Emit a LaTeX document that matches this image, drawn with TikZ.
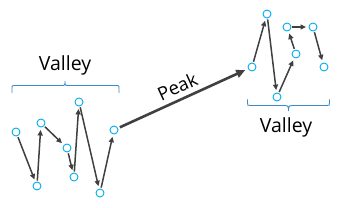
\documentclass[tikz,border=0pt]{standalone}
\usepackage{fontspec}
\setmainfont{Open Sans}
\usepackage{tikz}
\usetikzlibrary{arrows.meta}
\definecolor{cpt}{RGB}{0,174,239}
\definecolor{cbrace}{RGB}{60,140,205}
\definecolor{cedge}{RGB}{64,64,64}

\begin{document}
\begin{tikzpicture}[
  x=1pt,y=-1pt,
  pt/.style={circle,draw=cpt,line width=0.9pt,fill=white,minimum size=8pt,inner sep=0pt},
  hop/.style={-{Triangle[length=5.5pt,width=5pt]},cedge,line width=1.5pt,shorten <=1pt,shorten >=2.5pt},
  jump/.style={-{Triangle[length=9pt,width=8pt]},cedge,line width=2.6pt,shorten <=2pt,shorten >=3pt},
  brc/.style={cbrace,line width=0.9pt},
  lbl/.style={font=\fontsize{19.5}{22}\selectfont,text=black,inner sep=0pt},
]
\useasboundingbox (0,0) rectangle (351,208);

% valley on the left
\node[pt] (a1) at (16,132) {};
\node[pt] (a2) at (37,186) {};
\node[pt] (a3) at (41,123) {};
\node[pt] (a4) at (67,148) {};
\node[pt] (a5) at (74,177) {};
\node[pt] (a6) at (79,102) {};
\node[pt] (a7) at (100,193) {};
\node[pt] (a8) at (114,130) {};

\draw[hop] (a1) -- (a2);
\draw[hop] (a2) -- (a3);
\draw[hop] (a3) -- (a4);
\draw[hop] (a4) -- (a5);
\draw[hop] (a5) -- (a6);
\draw[hop] (a6) -- (a7);
\draw[hop] (a7) -- (a8);

\coordinate (bl) at (12,93);
\coordinate (bt) at (65,81);
\coordinate (br) at (119,93);
\draw[brc] (bl) -- ++(0,-4) .. controls +(0,-3.5) and +(-3.5,0) .. ++(3.5,-3.5) -- (61.5,85.5)
  .. controls +(3.5,0) and +(0,4.5) .. (bt) .. controls +(0,4.5) and +(-3.5,0) .. (68.5,85.5)
  -- (115.5,85.5) .. controls +(3.5,0) and +(0,-3.5) .. ++(3.5,3.5) -- (br);
\node[lbl,anchor=base] (vtop) at (65,70.5) {Valley};

% valley on the right
\node[pt] (b1) at (252,67) {};
\node[pt] (b2) at (267,14) {};
\node[pt] (b3) at (277,97) {};
\node[pt] (b4) at (296,54) {};
\node[pt] (b5) at (287,27) {};
\node[pt] (b6) at (313,27) {};
\node[pt] (b7) at (324,67) {};

\draw[hop] (b1) -- (b2);
\draw[hop] (b2) -- (b3);
\draw[hop] (b3) -- (b4);
\draw[hop] (b4) -- (b5);
\draw[hop] (b5) -- (b6);
\draw[hop] (b6) -- (b7);

\coordinate (cl) at (247.5,99.5);
\coordinate (ct) at (288.5,111);
\coordinate (cr) at (329.5,99.5);
\draw[brc] (cl) -- ++(0,3) .. controls +(0,3) and +(-3,0) .. ++(3,3) -- (285,105.5)
  .. controls +(3.5,0) and +(0,-3.5) .. (ct) .. controls +(0,-3.5) and +(-3.5,0) .. (292,105.5)
  -- (326.5,105.5) .. controls +(3,0) and +(0,3) .. ++(3,-3) -- (cr);
\node[lbl,anchor=base] (vbot) at (286,133) {Valley};

% the peak jump
\draw[jump] (a8) -- node[midway,above=5pt,sloped,lbl,font=\fontsize{18.5}{20}\selectfont] {Peak} (b1);
\end{tikzpicture}
\end{document}
